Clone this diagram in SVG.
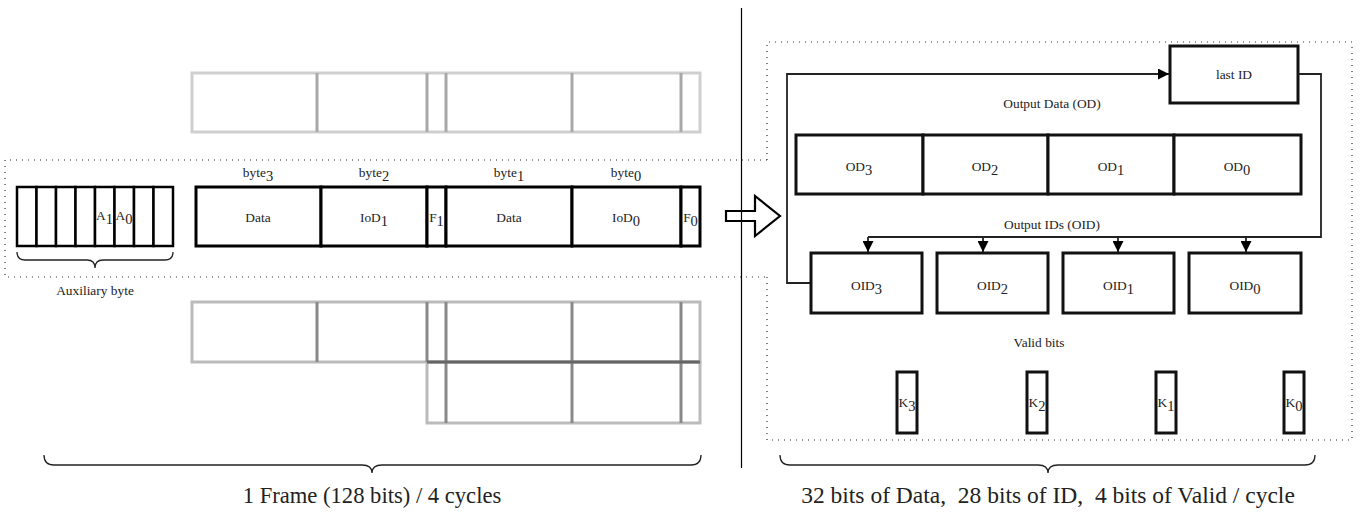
<svg xmlns="http://www.w3.org/2000/svg" width="1369" height="514" viewBox="0 0 1369 514">
<defs>
<style>
text{font-family:"Liberation Serif","DejaVu Serif",serif;fill:#222;}
.s{font-size:13.4px;text-anchor:middle;}
.b{font-size:22.6px;text-anchor:middle;white-space:pre;}
.cell{fill:#fff;stroke:#000;stroke-width:3;}
.aux{fill:#fff;stroke:#000;stroke-width:2.5;}
.box{fill:#fff;stroke:#111;stroke-width:3;}
.dot{fill:none;stroke:#333;stroke-width:1.2;stroke-dasharray:1 5;}
.conn{fill:none;stroke:#222;stroke-width:1.8;}
.brace{fill:none;stroke:#222;stroke-width:1.3;}
.g1{fill:none;stroke:#cfcfcf;stroke-width:3;}
.g1d{stroke:#a8a8a8;stroke-width:3;}
.g2{fill:none;stroke:#bbb;stroke-width:3;}
.g2d{stroke:#888;stroke-width:3;}
</style>
<marker id="ah" viewBox="0 0 10 10" refX="10" refY="5" markerWidth="11" markerHeight="11" markerUnits="userSpaceOnUse" orient="auto">
<path d="M0,0 L10,5 L0,10 z" fill="#000"/>
</marker>
</defs>

<g id="dotted-frames">
<path class="dot" d="M767,160 L5,160 L5,277 L767,277"/>
<path class="dot" d="M767,160 L767,42 L1352,42 L1352,440 L767,440 L767,277"/>
</g>

<g id="gray-top-row">
<rect class="g1" x="192" y="73" width="508" height="59"/>
<line class="g1d" x1="317" y1="73" x2="317" y2="132"/>
<line class="g1d" x1="427" y1="73" x2="427" y2="132"/>
<line class="g1d" x1="446" y1="73" x2="446" y2="132"/>
<line class="g1d" x1="572" y1="73" x2="572" y2="132"/>
<line class="g1d" x1="681" y1="73" x2="681" y2="132"/>
</g>

<g id="gray-bottom-rows">
<rect class="g2" x="192" y="302" width="508" height="60"/>
<rect class="g2" x="427" y="362" width="273" height="61"/>
<line class="g2d" x1="317" y1="302" x2="317" y2="362"/>
<line class="g2d" x1="427" y1="302" x2="427" y2="362"/>
<line class="g2d" x1="446" y1="302" x2="446" y2="423"/>
<line class="g2d" x1="572" y1="302" x2="572" y2="423"/>
<line class="g2d" x1="681" y1="302" x2="681" y2="423"/>
<line stroke="#666" stroke-width="3" x1="427" y1="362" x2="700" y2="362"/>
</g>

<g id="aux-byte">
<rect class="aux" x="17" y="187" width="19.5" height="59"/>
<rect class="aux" x="36.5" y="187" width="19.5" height="59"/>
<rect class="aux" x="56" y="187" width="19.5" height="59"/>
<rect class="aux" x="75.5" y="187" width="19.5" height="59"/>
<rect class="aux" x="95" y="187" width="19.5" height="59"/>
<rect class="aux" x="114.5" y="187" width="19.5" height="59"/>
<rect class="aux" x="134" y="187" width="19.5" height="59"/>
<rect class="aux" x="153.5" y="187" width="19.5" height="59"/>
<text class="s" x="104.5" y="220">A<tspan dy="4" font-size="14.5">1</tspan></text>
<text class="s" x="124" y="220">A<tspan dy="4" font-size="14.5">0</tspan></text>
<path class="brace" d="M17,252 Q17,260 25,260 L87,260 Q95,260 95,268 Q95,260 103,260 L165,260 Q173,260 173,252"/>
<text class="s" x="95" y="295">Auxiliary byte</text>
</g>

<g id="frame-row">
<rect class="cell" x="196" y="187" width="125" height="59"/>
<rect class="cell" x="321" y="187" width="106" height="59"/>
<rect class="cell" x="427" y="187" width="19" height="59"/>
<rect class="cell" x="446" y="187" width="126" height="59"/>
<rect class="cell" x="572" y="187" width="109" height="59"/>
<rect class="cell" x="681" y="187" width="19" height="59"/>
<text class="s" x="258" y="222">Data</text>
<text class="s" x="374" y="222">IoD<tspan dy="4" font-size="14.5">1</tspan></text>
<text class="s" x="436.5" y="222">F<tspan dy="4" font-size="14.5">1</tspan></text>
<text class="s" x="509" y="222">Data</text>
<text class="s" x="626" y="222">IoD<tspan dy="4" font-size="14.5">0</tspan></text>
<text class="s" x="690.5" y="222">F<tspan dy="4" font-size="14.5">0</tspan></text>
<text class="s" x="258" y="177">byte<tspan dy="4" font-size="14.5">3</tspan></text>
<text class="s" x="374" y="177">byte<tspan dy="4" font-size="14.5">2</tspan></text>
<text class="s" x="509" y="177">byte<tspan dy="4" font-size="14.5">1</tspan></text>
<text class="s" x="626" y="177">byte<tspan dy="4" font-size="14.5">0</tspan></text>
</g>

<g id="transfer-arrow">
<path d="M726,211 L755,211 L755,196 L780,216 L755,236 L755,221 L726,221 Z" fill="#fff" stroke="#000" stroke-width="2.2" stroke-linejoin="miter"/>
</g>

<g id="divider">
<line x1="741.5" y1="8" x2="741.5" y2="468" stroke="#000" stroke-width="1.2"/>
</g>

<g id="last-id">
<rect class="box" x="1170" y="46" width="128" height="57"/>
<text class="s" x="1234" y="79">last ID</text>
</g>

<text class="s" x="1052" y="108">Output Data (OD)</text>

<g id="od-row">
<rect class="box" x="796" y="135" width="127" height="59"/>
<rect class="box" x="923" y="135" width="125" height="59"/>
<rect class="box" x="1048" y="135" width="126" height="59"/>
<rect class="box" x="1174" y="135" width="127" height="59"/>
<text class="s" x="859" y="171">OD<tspan dy="4" font-size="14.5">3</tspan></text>
<text class="s" x="985" y="171">OD<tspan dy="4" font-size="14.5">2</tspan></text>
<text class="s" x="1111" y="171">OD<tspan dy="4" font-size="14.5">1</tspan></text>
<text class="s" x="1237" y="171">OD<tspan dy="4" font-size="14.5">0</tspan></text>
</g>

<text class="s" x="1052" y="229">Output IDs (OID)</text>

<g id="connectors">
<path class="conn" d="M811,283 L787,283 L787,74 L1169,74" marker-end="url(#ah)"/>
<path class="conn" d="M1298,74 L1321,74 L1321,237 L868,237"/>
<path class="conn" d="M868,237 L868,252" marker-end="url(#ah)"/>
<path class="conn" d="M983,237 L983,252" marker-end="url(#ah)"/>
<path class="conn" d="M1118,237 L1118,252" marker-end="url(#ah)"/>
<path class="conn" d="M1246,237 L1246,252" marker-end="url(#ah)"/>
</g>

<g id="oid-row">
<rect class="box" x="811" y="253" width="111" height="60"/>
<rect class="box" x="937" y="253" width="111" height="60"/>
<rect class="box" x="1063" y="253" width="111" height="60"/>
<rect class="box" x="1189" y="253" width="112" height="60"/>
<text class="s" x="866.5" y="290">OID<tspan dy="4" font-size="14.5">3</tspan></text>
<text class="s" x="992.5" y="290">OID<tspan dy="4" font-size="14.5">2</tspan></text>
<text class="s" x="1118.5" y="290">OID<tspan dy="4" font-size="14.5">1</tspan></text>
<text class="s" x="1245" y="290">OID<tspan dy="4" font-size="14.5">0</tspan></text>
</g>

<text class="s" x="1039" y="347">Valid bits</text>

<g id="valid-bits">
<rect class="box" x="897" y="372" width="20" height="61" stroke-width="2.5"/>
<rect class="box" x="1027" y="372" width="20" height="61" stroke-width="2.5"/>
<rect class="box" x="1156" y="372" width="20" height="61" stroke-width="2.5"/>
<rect class="box" x="1284" y="372" width="20" height="61" stroke-width="2.5"/>
<text class="s" x="907" y="407">K<tspan dy="4" font-size="14.5">3</tspan></text>
<text class="s" x="1037" y="407">K<tspan dy="4" font-size="14.5">2</tspan></text>
<text class="s" x="1166" y="407">K<tspan dy="4" font-size="14.5">1</tspan></text>
<text class="s" x="1294" y="407">K<tspan dy="4" font-size="14.5">0</tspan></text>
</g>

<g id="bottom-braces">
<path class="brace" d="M44,455 Q44,465 54,465 L362,465 Q372,465 372,473 Q372,465 382,465 L691,465 Q701,465 701,455"/>
<text class="b" x="372" y="503">1 Frame (128 bits) / 4 cycles</text>
<path class="brace" d="M780,455 Q780,465 790,465 L1038,465 Q1048,465 1048,473 Q1048,465 1058,465 L1305,465 Q1315,465 1315,455"/>
<text class="b" x="1048" y="503" font-size="23.5" style="font-size:23.5px" xml:space="preserve">32 bits of Data,  28 bits of ID,  4 bits of Valid / cycle</text>
</g>
</svg>
